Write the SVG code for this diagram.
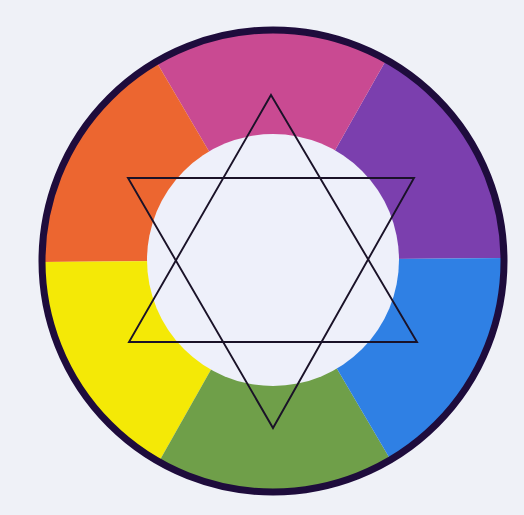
<svg xmlns="http://www.w3.org/2000/svg" width="524" height="515" viewBox="0 0 524 515">
  <style>
    .wedge { stroke: none; }
    .star { fill: none; stroke: #1a1228; stroke-width: 1.9; stroke-linejoin: miter; }
  </style>
  <rect id="background" x="0" y="0" width="524" height="515" fill="#eff1f7"/>
  <g id="wheel">
    <path id="purple" class="wedge" fill="#7b3fae" d="M273,260 L505,258 A232,232 0 0 0 387.2,58.1 Z"/>
    <path id="magenta" class="wedge" fill="#c94a92" d="M273,260 L387.2,58.1 A232,232 0 0 0 155.3,60.1 Z"/>
    <path id="orange" class="wedge" fill="#ec6630" d="M273,260 L155.3,60.1 A232,232 0 0 0 41,262 Z"/>
    <path id="yellow" class="wedge" fill="#f4e906" d="M273,260 L41,262 A232,232 0 0 0 158.8,461.9 Z"/>
    <path id="green" class="wedge" fill="#6f9f49" d="M273,260 L158.8,461.9 A232,232 0 0 0 390.7,459.9 Z"/>
    <path id="blue" class="wedge" fill="#2f80e4" d="M273,260 L390.7,459.9 A232,232 0 0 0 505,258 Z"/>
    <circle id="inner" cx="273" cy="260" r="126" fill="#eef0fa"/>
    <circle id="rim" cx="273" cy="261" r="231" fill="none" stroke="#1e0c3c" stroke-width="7"/>
  </g>
  <g id="star">
    <polygon id="triangle-up" class="star" points="271,95 417,342 129,342"/>
    <polygon id="triangle-down" class="star" points="128,178 414,178 273,428"/>
  </g>
</svg>
